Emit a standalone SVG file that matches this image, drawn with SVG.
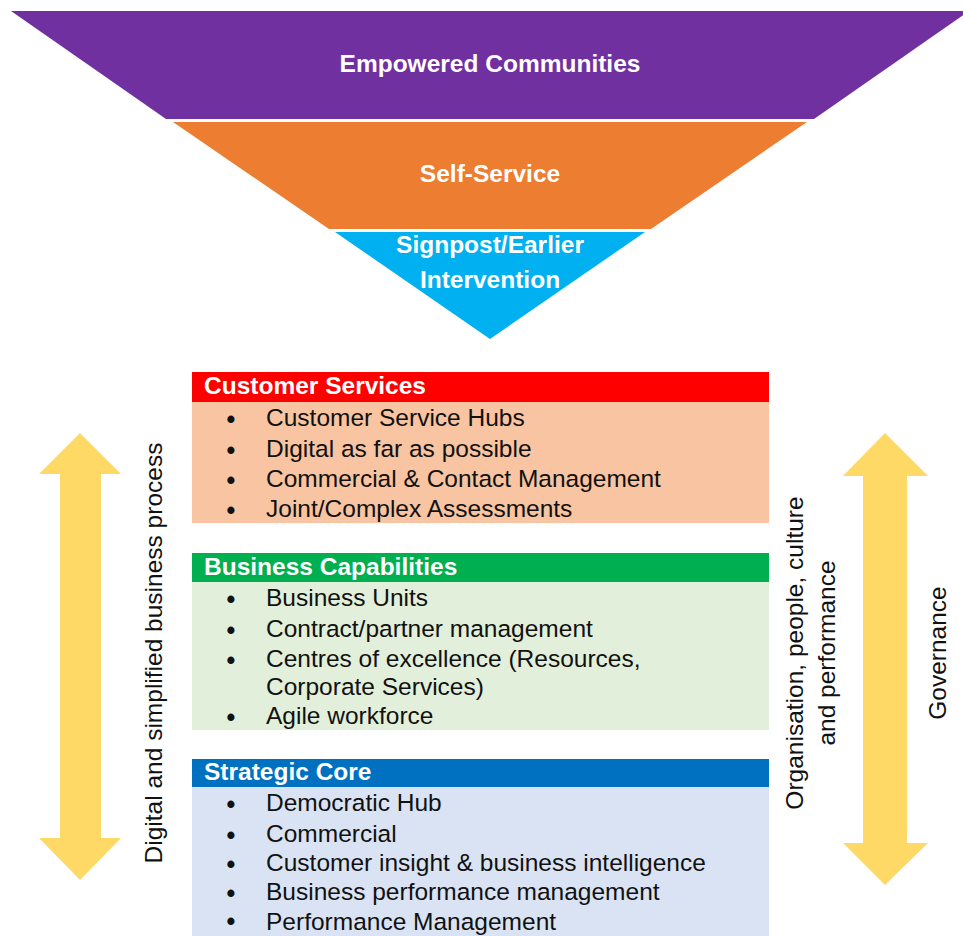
<svg xmlns="http://www.w3.org/2000/svg" width="963" height="936" viewBox="0 0 963 936">
<style>
  text { font-family: "Liberation Sans", Arial, sans-serif; }
  .ft { font-size: 24.5px; font-weight: bold; fill: #ffffff; text-anchor: middle; }
  .hd { font-size: 24.5px; font-weight: bold; fill: #ffffff; }
  .it { font-size: 24.5px; fill: #111111; }
  .bl { font-size: 25px; font-weight: bold; fill: #111111; text-anchor: middle; }
  .rt { font-size: 24.5px; fill: #111111; text-anchor: middle; }
  .arrow { fill: #FFD966; }
</style>
<rect x="0" y="0" width="963" height="936" fill="#ffffff"/>

<g id="funnel-empowered">
  <polygon points="11,11 969,11 814,119 166,119" fill="#7030A0"/>
  <text class="ft" x="490" y="72">Empowered Communities</text>
</g>
<g id="funnel-self-service">
  <polygon points="173,122 807,122 651,229 329,229" fill="#ED7D31"/>
  <text class="ft" x="490" y="182">Self-Service</text>
</g>
<g id="funnel-signpost">
  <polygon points="335,232 645,232 490,339" fill="#00B0F0"/>
  <text class="ft" x="490" y="253">Signpost/Earlier</text>
  <text class="ft" x="490" y="288">Intervention</text>
</g>

<g id="arrow-left">
  <polygon class="arrow" points="80,433 121,474 101,474 101,838 121,838 80,880 39,838 60,838 60,474 39,474"/>
  <text class="rt" transform="translate(162,653) rotate(-90)">Digital and simplified business process</text>
</g>
<g id="arrow-right">
  <polygon class="arrow" points="885,433 928,476 907,476 907,843 928,843 885,885 843,843 863,843 863,476 843,476"/>
  <text class="rt" transform="translate(803,653) rotate(-90)">Organisation, people, culture</text>
  <text class="rt" transform="translate(835,653) rotate(-90)">and performance</text>
  <text class="rt" transform="translate(946,653) rotate(-90)">Governance</text>
</g>

<g id="customer-services">
  <rect x="192" y="372" width="577" height="30" fill="#FF0000"/>
  <rect x="192" y="402" width="577" height="121" fill="#F8C4A1"/>
  <text class="hd" x="204" y="394">Customer Services</text>
  <text class="bl" x="231" y="428">•</text><text class="it" x="266" y="426">Customer Service Hubs</text>
  <text class="bl" x="231" y="459">•</text><text class="it" x="266" y="457">Digital as far as possible</text>
  <text class="bl" x="231" y="489">•</text><text class="it" x="266" y="487">Commercial &amp; Contact Management</text>
  <text class="bl" x="231" y="519">•</text><text class="it" x="266" y="517">Joint/Complex Assessments</text>
</g>

<g id="business-capabilities">
  <rect x="192" y="553" width="577" height="29" fill="#00B050"/>
  <rect x="192" y="582" width="577" height="148" fill="#E2EFDA"/>
  <text class="hd" x="204" y="575">Business Capabilities</text>
  <text class="bl" x="231" y="608">•</text><text class="it" x="266" y="606">Business Units</text>
  <text class="bl" x="231" y="639">•</text><text class="it" x="266" y="637">Contract/partner management</text>
  <text class="bl" x="231" y="669">•</text><text class="it" x="266" y="667">Centres of excellence (Resources,</text>
  <text class="it" x="266" y="695">Corporate Services)</text>
  <text class="bl" x="231" y="726">•</text><text class="it" x="266" y="724">Agile workforce</text>
</g>

<g id="strategic-core">
  <rect x="192" y="759" width="577" height="28" fill="#0070C0"/>
  <rect x="192" y="787" width="577" height="149" fill="#DAE3F3"/>
  <text class="hd" x="204" y="780">Strategic Core</text>
  <text class="bl" x="231" y="813">•</text><text class="it" x="266" y="811">Democratic Hub</text>
  <text class="bl" x="231" y="844">•</text><text class="it" x="266" y="842">Commercial</text>
  <text class="bl" x="231" y="873">•</text><text class="it" x="266" y="871">Customer insight &amp; business intelligence</text>
  <text class="bl" x="231" y="902">•</text><text class="it" x="266" y="900">Business performance management</text>
  <text class="bl" x="231" y="930">•</text><text class="it" x="266" y="930">Performance Management</text>
</g>

<g id="connectors"></g>
</svg>
